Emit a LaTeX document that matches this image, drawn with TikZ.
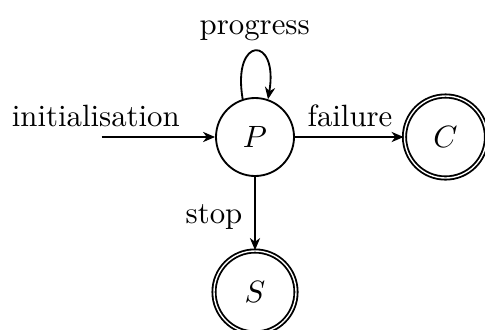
\documentclass[tikz,border=0pt]{standalone}
\usetikzlibrary{arrows.meta}
\begin{document}
\begin{tikzpicture}[x=0.3247pt,y=-0.3247pt,
  every path/.style={line width=0.6pt},
  statebox/.style={circle,draw,line width=0.6pt,minimum size=78*0.3247pt,inner sep=0pt},
  finalbox/.style={circle,draw,line width=0.6pt,double,double distance=0.45pt,minimum size=82*0.3247pt,inner sep=0pt},
  lbl/.style={anchor=base,inner sep=0pt},
  arr/.style={-{Stealth[length=3.9pt,width=3.3pt,inset=1.2pt]},line width=0.6pt}]
\useasboundingbox (0,0) rectangle (485,329);
\node[statebox] (P) at (255,137) {$P$};
\node[finalbox] (C) at (445.5,137) {$C$};
\node[finalbox] (S) at (255,292) {$S$};
\coordinate (init) at (101.7,137);
\node[lbl] (linit) at (95.8,126) {initialisation};
\node[lbl] (lprog) at (254.7,34) {progress};
\node[lbl] (lfail) at (350,126) {failure};
\node[lbl] (lstop) at (214,223) {stop};
\draw[arr] (init) -- (P);
\draw[arr] (P) -- (C);
\draw[arr] (P) -- (S);
\draw[arr] (P.108) .. controls +(-11,-64) and +(11,-64) .. (P.71);
\end{tikzpicture}
\end{document}
